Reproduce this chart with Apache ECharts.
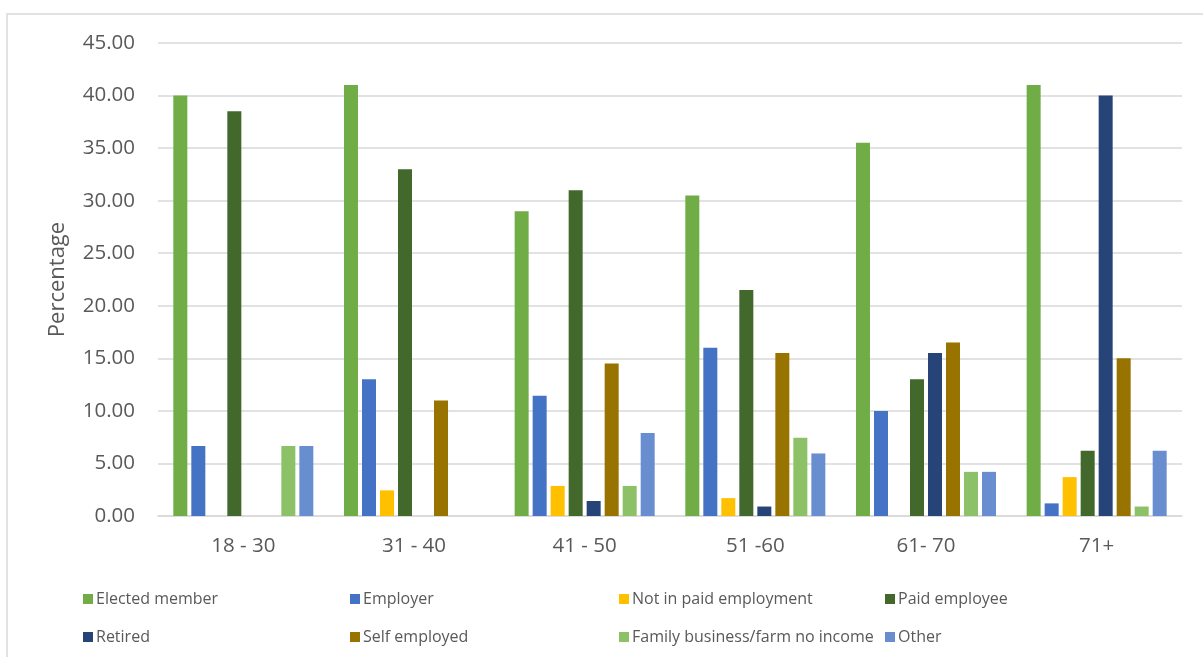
<!DOCTYPE html>
<html>
<head>
<meta charset="utf-8">
<title>Occupation by age group</title>
<script src="https://cdn.jsdelivr.net/npm/echarts@6/dist/echarts.min.js"></script>
<style>
  html, body { margin: 0; padding: 0; background: #ffffff; }
  #chart { width: 1203px; height: 657px; }
</style>
</head>
<body>
<div id="chart"></div>
<script>
// Age groups along the x axis
const categories = ['18 - 30', '31 - 40', '41 - 50', '51 -60', '61- 70', '71+'];

// Percentage of each occupation group within an age band
const electedMember = [40.0, 41.0, 29.0, 30.5, 35.5, 41.0];
const employer = [6.67, 13.0, 11.43, 16.0, 10.0, 1.2];
const notInPaidEmployment = [0, 2.44, 2.86, 1.7, 0, 3.7];
const paidEmployee = [38.5, 33.0, 31.0, 21.5, 13.0, 6.2];
const retired = [0, 0, 1.43, 0.9, 15.5, 40.0];
const selfEmployed = [0, 11.0, 14.5, 15.5, 16.5, 15.0];
const familyBusiness = [6.67, 0, 2.86, 7.45, 4.2, 0.9];
const other = [6.67, 0, 7.9, 5.95, 4.2, 6.2];

const seriesNames = [
  'Elected member', 'Employer', 'Not in paid employment', 'Paid employee',
  'Retired', 'Self employed', 'Family business/farm no income', 'Other'
];
const seriesValues = [
  electedMember, employer, notInPaidEmployment, paidEmployee,
  retired, selfEmployed, familyBusiness, other
];
const seriesColors = [
  '#70AD47', '#4472C4', '#FFC000', '#43682B',
  '#264478', '#997300', '#8CC168', '#698ED0'
];

const textColor = '#595959';
const gridColor = '#D9D9D9';
const fontFamily = '"Open Sans", "Noto Sans", sans-serif';

const chart = echarts.init(document.getElementById('chart'), null, { renderer: 'canvas' });

// Legend laid out in a 4 x 2 grid, one component per entry
const legendCols = [78, 345, 614, 880];
const legendRows = [586, 624];
const legends = seriesNames.map((name, i) => ({
  data: [name],
  left: legendCols[i % 4],
  top: legendRows[Math.floor(i / 4)],
  icon: 'rect',
  itemWidth: 10,
  itemHeight: 10,
  itemGap: 0,
  selectedMode: false,
  textStyle: { color: textColor, fontSize: 16, fontFamily: fontFamily, padding: [0, 0, 0, -2] }
}));

const option = {
  backgroundColor: '#ffffff',
  animation: false,
  graphic: [{
    type: 'rect',
    shape: { x: 7, y: 14, width: 1300, height: 800 },
    style: { fill: 'none', stroke: gridColor, lineWidth: 1.5 },
    silent: true,
    z: -1
  }],
  legend: legends,
  grid: { left: 158, right: 21, top: 43, bottom: 141, containLabel: false },
  xAxis: {
    type: 'category',
    data: categories,
    axisTick: { show: false },
    axisLine: { lineStyle: { color: gridColor, width: 1.5 } },
    axisLabel: { color: textColor, fontSize: 20.5, fontFamily: fontFamily, margin: 20 }
  },
  yAxis: {
    type: 'value',
    min: 0,
    max: 45,
    interval: 5,
    name: 'Percentage',
    nameLocation: 'middle',
    nameGap: 89,
    nameTextStyle: { color: textColor, fontSize: 22, fontFamily: fontFamily },
    axisLine: { show: false },
    axisTick: { show: false },
    splitLine: { lineStyle: { color: gridColor, width: 1.5 } },
    axisLabel: {
      color: textColor, fontSize: 20.5, fontFamily: fontFamily, margin: 23,
      formatter: v => v.toFixed(2)
    }
  },
  series: seriesNames.map((name, i) => ({
    name: name,
    type: 'bar',
    data: seriesValues[i],
    barWidth: 14,
    barGap: '28.6%',
    itemStyle: { color: seriesColors[i] }
  }))
};

chart.setOption(option);
</script>
</body>
</html>
